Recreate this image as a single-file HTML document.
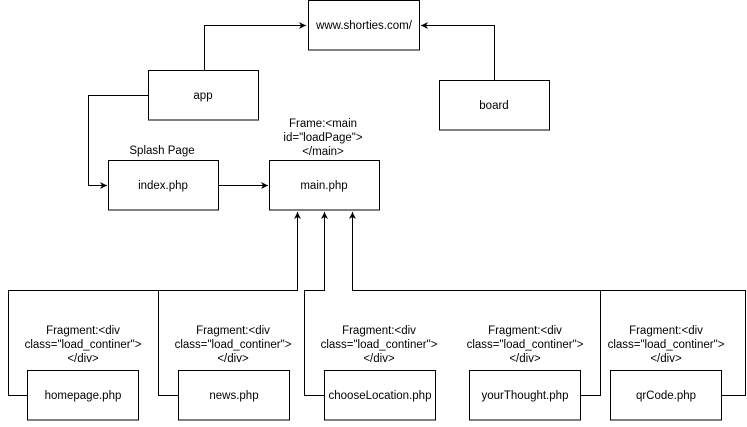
<!DOCTYPE html>
<html><head><style>
body{margin:0;background:#fff;}
svg text{font-family:"Liberation Sans",Arial,sans-serif;font-size:11.5px;fill:#000;text-anchor:middle;}
</style></head><body>
<svg width="747" height="422" viewBox="0 0 747 422" xmlns="http://www.w3.org/2000/svg">
<defs><marker id="a" markerWidth="8" markerHeight="8" refX="7" refY="4" orient="auto" markerUnits="userSpaceOnUse"><path d="M0,0.5 L7,4 L0,7.5 L2,4 Z" fill="#000"/></marker></defs>
<g fill="#fff" stroke="#000" stroke-width="1">
<rect x="308.5" y="0.5" width="111" height="49.5"/>
<rect x="148.5" y="70.5" width="110" height="49.5"/>
<rect x="439.5" y="80.5" width="110" height="49.5"/>
<rect x="108.5" y="160.5" width="110" height="49.5"/>
<rect x="269.5" y="160.5" width="110" height="49.5"/>
<rect x="27.5" y="370.5" width="111" height="49.5"/>
<rect x="178.5" y="370.5" width="111" height="49.5"/>
<rect x="324.5" y="370.5" width="111" height="49.5"/>
<rect x="469.5" y="370.5" width="111" height="49.5"/>
<rect x="610.5" y="370.5" width="111" height="49.5"/>
</g>
<g fill="none" stroke="#000" stroke-width="1">
<path d="M204.5,70 V25.5 H306" marker-end="url(#a)"/>
<path d="M494.5,80 V25.5 H421" marker-end="url(#a)"/>
<path d="M148,95.5 H88.5 V185.5 H107" marker-end="url(#a)"/>
<path d="M219,185.5 H268" marker-end="url(#a)"/>
<path d="M27,395.5 H8.5 V290.5 H297.5 V212" marker-end="url(#a)"/>
<path d="M178,395.5 H158.5 V290.5"/>
<path d="M324,395.5 H304.5 V290.5 H324.5 V212" marker-end="url(#a)"/>
<path d="M581,395.5 H600.5 V290.5"/>
<path d="M722,395.5 H745.5 V290.5 H352.5 V212" marker-end="url(#a)"/>
</g>
<text x="364" y="29">www.shorties.com/</text>
<text x="203" y="99">app</text>
<text x="494" y="109">board</text>
<text x="163" y="189">index.php</text>
<text x="324" y="189">main.php</text>
<text x="162" y="154">Splash Page</text>
<text x="323" y="127">Frame:&lt;main</text>
<text x="323" y="141">id="loadPage"&gt;</text>
<text x="323" y="155">&lt;/main&gt;</text>
<text x="83" y="399">homepage.php</text>
<text x="234" y="399">news.php</text>
<text x="380" y="399">chooseLocation.php</text>
<text x="525" y="399">yourThought.php</text>
<text x="666" y="399">qrCode.php</text>
<g>
<text x="83" y="334">Fragment:&lt;div</text><text x="83" y="348">class="load_continer"&gt;</text><text x="83" y="362">&lt;/div&gt;</text>
<text x="233" y="334">Fragment:&lt;div</text><text x="233" y="348">class="load_continer"&gt;</text><text x="233" y="362">&lt;/div&gt;</text>
<text x="379" y="334">Fragment:&lt;div</text><text x="379" y="348">class="load_continer"&gt;</text><text x="379" y="362">&lt;/div&gt;</text>
<text x="525" y="334">Fragment:&lt;div</text><text x="525" y="348">class="load_continer"&gt;</text><text x="525" y="362">&lt;/div&gt;</text>
<text x="666" y="334">Fragment:&lt;div</text><text x="666" y="348">class="load_continer"&gt;</text><text x="666" y="362">&lt;/div&gt;</text>
</g>
</svg>
</body></html>
